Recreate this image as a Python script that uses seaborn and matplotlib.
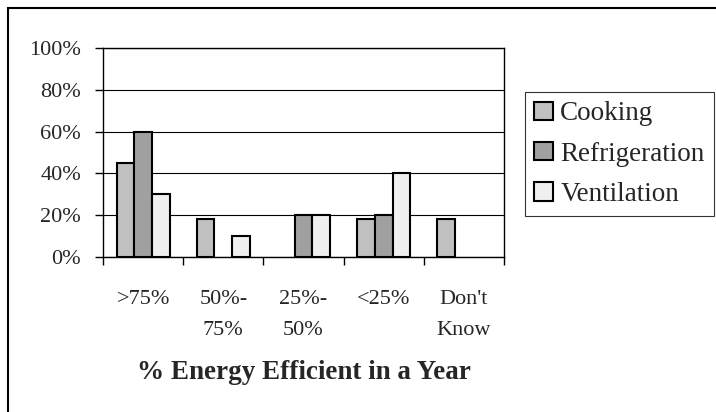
import numpy as np
import pandas as pd
import matplotlib
matplotlib.use("Agg")
import matplotlib.pyplot as plt
import seaborn as sns
from matplotlib.patches import Rectangle

# values (percent of respondents)
categories = [">75%", "50%-\n75%", "25%-\n50%", "<25%", "Don't\nKnow"]
series = ["Cooking", "Refrigeration", "Ventilation"]
cooking = [45, 18, 0, 18, 18]
refrigeration = [60, 0, 20, 20, 0]
ventilation = [30, 10, 20, 40, 0]
y_ticks = [0, 20, 40, 60, 80, 100]
colors = ["#c0c0c0", "#a0a0a0", "#f0f0f0"]

df = pd.DataFrame({
    "category": categories * 3,
    "series": np.repeat(series, len(categories)),
    "value": cooking + refrigeration + ventilation,
})

sns.set_style("white")
plt.rcParams["font.family"] = ["Liberation Serif", "DejaVu Serif"]

W, H = 716, 412
fig = plt.figure(figsize=(W / 100, H / 100), dpi=100)
ax = fig.add_axes([103 / W, 1 - 257 / H, 401 / W, 209 / H])

sns.barplot(data=df, x="category", y="value", hue="series", palette=colors,
            saturation=1, width=0.66, edgecolor="black", linewidth=1.5, ax=ax)

handles, labels = ax.get_legend_handles_labels()
ax.get_legend().remove()

# empty bars are not drawn in the original
for cont in ax.containers:
    for bar in cont:
        if bar.get_height() == 0:
            bar.set_visible(False)

# plot area
ax.set_xlim(-0.5, len(categories) - 0.5)
ax.set_ylim(0, 100)
ax.set_yticks(y_ticks)
ax.set_yticklabels([f"{t}%" for t in y_ticks])
ax.yaxis.grid(True, color="black", linewidth=0.8)
ax.set_axisbelow(True)
for s in ax.spines.values():
    s.set_color("black")
    s.set_linewidth(1.0)
    s.set_visible(True)

# tick marks sit between the groups, labels at the centres
ax.set_xticks(np.arange(-0.5, len(categories), 1), minor=True)
ax.tick_params(axis="x", which="major", length=0, pad=23.5, labelsize=16)
ax.tick_params(axis="x", which="minor", bottom=True, length=5.8, width=1, color="black")
ax.tick_params(axis="y", left=True, length=5.8, width=1, color="black", pad=10, labelsize=16)
for lab in ax.get_xticklabels():
    lab.set_linespacing(1.85)

ax.set_ylabel("")
ax.set_xlabel("% Energy Efficient in a Year", fontsize=19.5, fontweight="bold", labelpad=15)

# legend to the right of the plot
leg = fig.legend(handles, labels, loc="upper left", bbox_to_anchor=(525 / W, 1 - 92 / H),
                 frameon=True, fancybox=False, edgecolor="black", fontsize=19.5,
                 handlelength=0.68, handleheight=0.68, handletextpad=0.27,
                 labelspacing=0.56, borderpad=0.35, borderaxespad=0)
leg.get_frame().set_linewidth(0.8)

# outer chart frame (cut off on the right and bottom)
fig.add_artist(Rectangle((8 / W, -0.5), 1.5, 1.5 - 8 / H, transform=fig.transFigure,
                         fill=False, edgecolor="black", linewidth=1.5))

fig.savefig("out.png", dpi=100)
